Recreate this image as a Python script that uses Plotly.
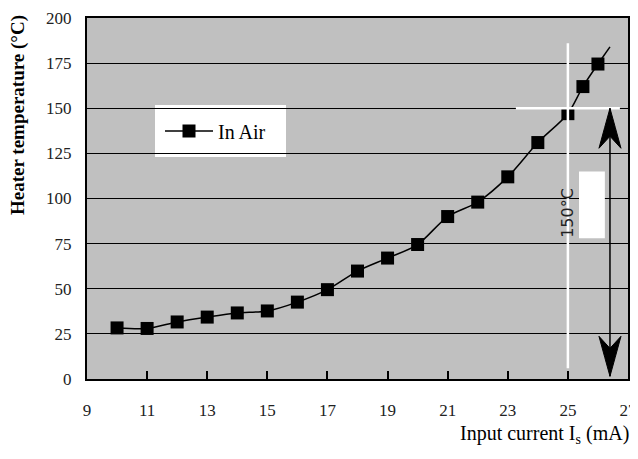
import plotly.graph_objects as go

# ---- data ----
current_mA = [10, 11, 12, 13, 14, 15, 16, 17, 18, 19, 20, 21, 22, 23, 24, 25, 25.5, 26]
temp_C = [28.3, 28, 31.6, 34.3, 36.6, 37.7, 42.6, 49.5, 59.8, 67, 74.5, 90, 98, 112, 131, 147, 162, 174.5]
curve_end_x = [26, 26.4]
curve_end_y = [174.5, 184]

x_ticks = [9, 11, 13, 15, 17, 19, 21, 23, 25, 27]
y_ticks = [0, 25, 50, 75, 100, 125, 150, 175, 200]
series_name = "In Air"

# ---- annotation geometry (data units) ----
TARGET_T = 150
TARGET_I = 25
ARROW_X = 26.4
ARROW_TOP = 150
ARROW_BOTTOM = 1.5

# page has an 8px body margin; compensate
OFF = 8
W, H = 638 - OFF, 459 - 2 * OFF
ML, MT = 87 - OFF, 18 - OFF
MR = W - (628 - OFF)
MB = H - (379 - OFF)
PW, PH = W - ML - MR, H - MT - MB

def px(xpix):  # page pixel -> paper
    return (xpix - OFF - ML) / PW

def py(ypix):
    return (379 - ypix) / PH

serif = "Liberation Serif"

fig = go.Figure()
fig.add_trace(go.Scatter(
    x=current_mA, y=temp_C, mode="lines+markers", name=series_name,
    line=dict(color="black", width=1.5, shape="spline", smoothing=0.8),
    marker=dict(symbol="square", size=13, color="black"),
))
fig.add_trace(go.Scatter(
    x=curve_end_x, y=curve_end_y, mode="lines", showlegend=False,
    line=dict(color="black", width=1.5),
))

shapes = [
    # legend white box
    dict(type="rect", xref="paper", yref="paper", x0=px(155), x1=px(286), y0=py(157), y1=py(105),
         fillcolor="white", line=dict(width=0), layer="between"),
    # white guide lines
    dict(type="line", xref="x", yref="y", x0=TARGET_I, x1=TARGET_I, y0=6, y1=186,
         line=dict(color="white", width=2.5), layer="above"),
    dict(type="line", xref="x", yref="y", x0=23.27, x1=26.73, y0=TARGET_T, y1=TARGET_T,
         line=dict(color="white", width=2.5), layer="above"),
    # white rectangle
    dict(type="rect", xref="x", yref="y", x0=25.37, x1=26.23, y0=78, y1=115,
         fillcolor="white", line=dict(width=0), layer="above"),
    # arrow shaft
    dict(type="line", xref="x", yref="y", x0=ARROW_X, x1=ARROW_X, y0=ARROW_BOTTOM, y1=ARROW_TOP,
         line=dict(color="black", width=1.5), layer="above"),
    # arrow heads (pixel-sized, anchored at tips)
    dict(type="path", xsizemode="pixel", ysizemode="pixel", xref="x", yref="y",
         xanchor=ARROW_X, yanchor=ARROW_TOP,
         path="M0,0 Q-5,-18 -11,-40 L0,-28 L11,-40 Q5,-18 0,0 Z",
         fillcolor="black", line=dict(color="black", width=1), layer="above"),
    dict(type="path", xsizemode="pixel", ysizemode="pixel", xref="x", yref="y",
         xanchor=ARROW_X, yanchor=ARROW_BOTTOM,
         path="M0,0 Q-5,18 -11,40 L0,28 L11,40 Q5,18 0,0 Z",
         fillcolor="black", line=dict(color="black", width=1), layer="above"),
]

annotations = [
    dict(text="150°C", x=TARGET_I, y=92, xref="x", yref="y", textangle=-90, showarrow=False,
         xanchor="center", yanchor="middle",
         font=dict(family="DejaVu Sans, sans-serif", size=16, color="#222")),
    dict(text="<b>Heater temperature (°C)</b>", xref="paper", yref="paper", x=px(18), y=py(115),
         xanchor="center", yanchor="middle",
         textangle=-90, showarrow=False, font=dict(family=serif, size=19, color="black")),
    dict(text="Input current I<sub>s</sub> (mA)", xref="paper", yref="paper", x=px(631), y=py(434),
         xanchor="right", yanchor="middle", showarrow=False,
         font=dict(family=serif, size=20, color="black")),
]

fig.update_layout(
    width=W, height=H,
    margin=dict(l=ML, r=MR, t=MT, b=MB, autoexpand=False),
    paper_bgcolor="white", plot_bgcolor="#c0c0c0",
    showlegend=True,
    legend=dict(x=px(160), y=py(131), xanchor="left", yanchor="middle",
                bgcolor="rgba(0,0,0,0)", borderwidth=0, itemwidth=48,
                font=dict(family=serif, size=20, color="black")),
    shapes=shapes, annotations=annotations,
    xaxis=dict(range=[9, 27], tickvals=x_ticks, ticktext=[str(v) for v in x_ticks],
               ticks="inside", ticklen=8, tickwidth=1.5, tickcolor="black",
               showgrid=False, zeroline=False, showline=True, linecolor="black", linewidth=2,
               mirror=True, ticklabelstandoff=15, automargin=False,
               tickfont=dict(family=serif, size=17, color="#222")),
    yaxis=dict(range=[0, 200], tickvals=y_ticks, ticktext=[str(v) for v in y_ticks],
               ticks="", showgrid=True, gridcolor="black", gridwidth=1,
               zeroline=False, showline=True, linecolor="black", linewidth=2, mirror=True,
               ticklabelstandoff=10, automargin=False,
               tickfont=dict(family=serif, size=17, color="#222")),
)

fig.write_html("out.html")
